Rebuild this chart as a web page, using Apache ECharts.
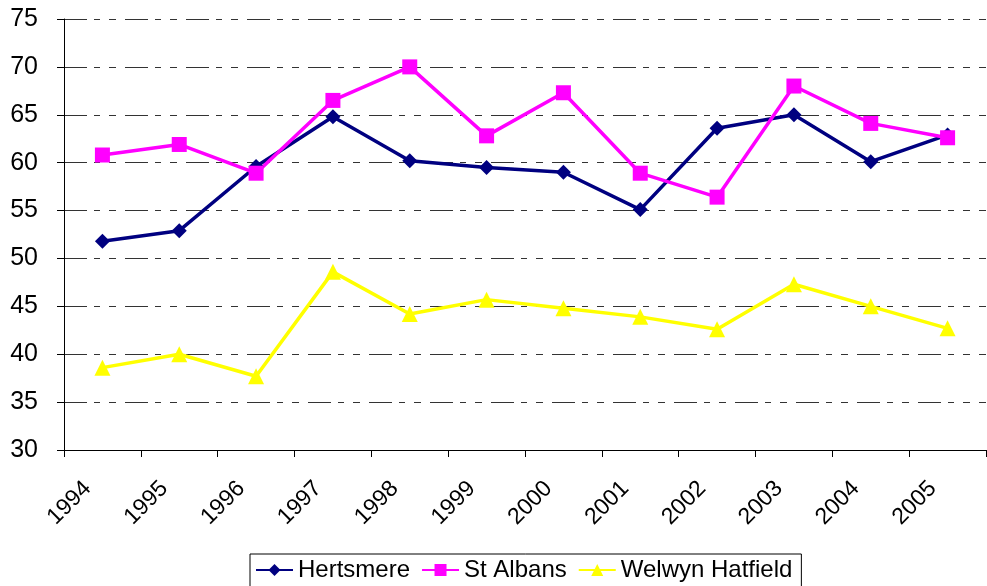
<!DOCTYPE html>
<html>
<head>
<meta charset="utf-8">
<script src="https://cdn.jsdelivr.net/npm/echarts@6/dist/echarts.min.js"></script>
<style>
  html, body {margin: 0; padding: 0; background: #fff;}
  #chart {width: 987px; height: 586px;}
</style>
</head>
<body>
<div id="chart"></div>
<script>
const years = ['1994', '1995', '1996', '1997', '1998', '1999', '2000', '2001', '2002', '2003', '2004', '2005'];
const hertsmere = [51.8, 52.9, 59.6, 64.8, 60.2, 59.5, 59.0, 55.1, 63.6, 65.0, 60.1, 62.9];
const stAlbans = [60.8, 61.9, 58.9, 66.5, 70.0, 62.8, 67.3, 58.9, 56.4, 68.0, 64.1, 62.6];
const welwynHatfield = [38.6, 40.0, 37.7, 48.6, 44.2, 45.7, 44.8, 43.9, 42.6, 47.3, 45.0, 42.7];
const yTicks = {min: 30, max: 75, step: 5};

const font = 'Liberation Sans, Arial, sans-serif';

const chart = echarts.init(document.getElementById('chart'), null, {renderer: 'canvas'});

const makeSeries = (name, data, color, symbol, size) => ({
    name,
    type: 'line',
    data,
    symbol,
    symbolSize: size,
    showAllSymbol: true,
    lineStyle: {color, width: 3.5},
    itemStyle: {color},
    emphasis: {disabled: true},
    animation: false,
});

chart.setOption({
    backgroundColor: '#fff',
    animation: false,
    grid: {left: 64, right: 1, top: 19, bottom: 136},
    legend: {
        left: 250,
        top: 554,
        itemWidth: 37,
        itemHeight: 15,
        itemGap: 11,
        padding: [4, 9, 10, 5],
        borderColor: '#000',
        borderWidth: 1,
        textStyle: {color: '#000', fontSize: 24, fontFamily: font},
        data: ['Hertsmere', 'St Albans', 'Welwyn Hatfield'],
    },
    xAxis: {
        type: 'category',
        data: years,
        boundaryGap: true,
        axisLine: {lineStyle: {color: '#000', width: 1}},
        axisTick: {show: true, length: 7, lineStyle: {color: '#000'}},
        axisLabel: {
            rotate: 45,
            margin: 20,
            padding: [0, 21, 0, 0],
            color: '#000',
            fontSize: 23,
            fontFamily: font,
            interval: 0,
        },
        splitLine: {show: false},
    },
    yAxis: {
        type: 'value',
        min: yTicks.min,
        max: yTicks.max,
        interval: yTicks.step,
        axisLine: {show: true, lineStyle: {color: '#000', width: 1}},
        axisTick: {show: true, length: 7, lineStyle: {color: '#000'}},
        axisLabel: {
            margin: 26,
            color: '#000',
            fontSize: 25,
            fontFamily: font,
        },
        splitLine: {
            show: true,
            lineStyle: {color: '#333', width: 1, type: [23, 7, 6, 9, 7, 9]},
        },
    },
    series: [
        makeSeries('Hertsmere', hertsmere, '#000080', 'diamond', 15),
        makeSeries('St Albans', stAlbans, '#ff00ff', 'rect', 15),
        makeSeries('Welwyn Hatfield', welwynHatfield, '#ffff00', 'triangle', 16),
    ],
});
</script>
</body>
</html>
